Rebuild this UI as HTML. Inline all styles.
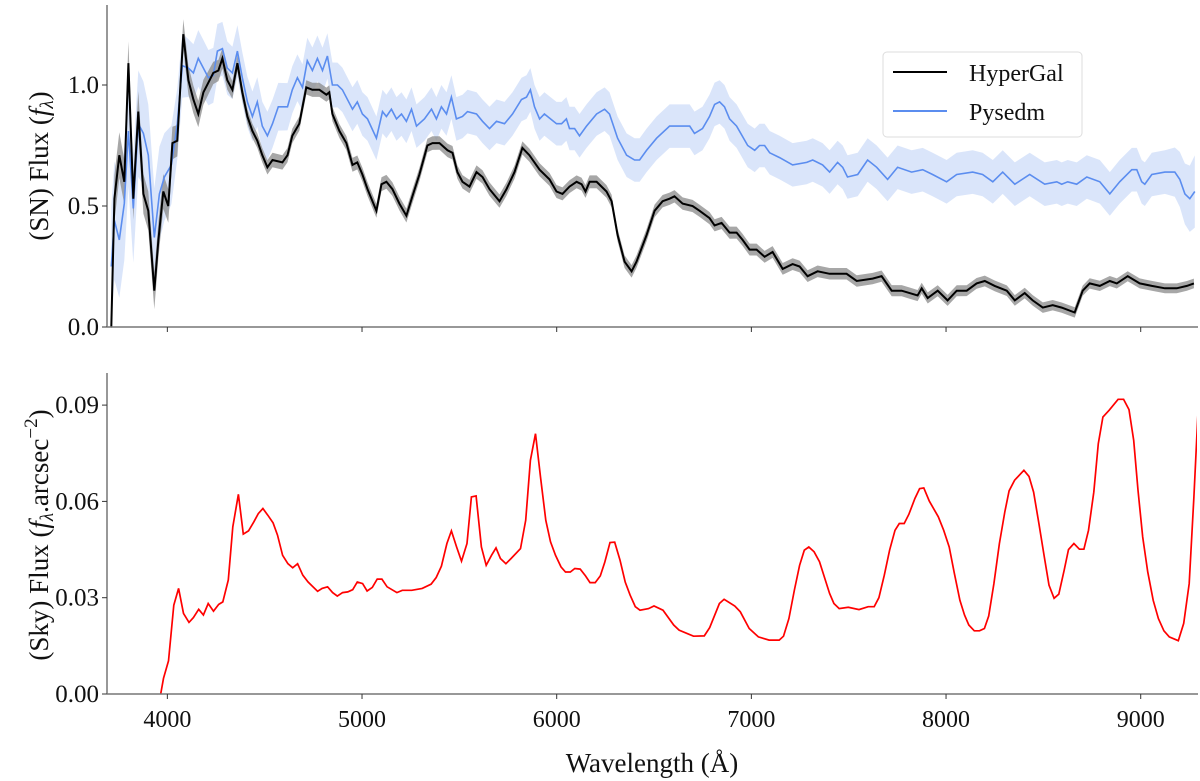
<!DOCTYPE html>
<html><head><meta charset="utf-8"><style>
html,body{margin:0;padding:0;background:#fff;}
svg{display:block;}
text{font-family:"Liberation Serif","DejaVu Serif",serif;fill:#111;}
</style></head><body>
<svg id="chart" width="1200" height="781" viewBox="0 0 1200 781" xmlns="http://www.w3.org/2000/svg">
<defs>
<clipPath id="clipTop"><rect x="107" y="0" width="1090" height="328"/></clipPath>
<clipPath id="clipBot"><rect x="107" y="370" width="1090" height="325"/></clipPath>
</defs>
<g id="topPanel"></g>
<g id="botPanel"></g>
<text transform="translate(48,166) rotate(-90)" text-anchor="middle" font-size="27">(SN) Flux (<tspan font-style="italic">f</tspan><tspan font-size="19" font-style="italic" dy="5">λ</tspan><tspan dy="-5">)</tspan></text>
<text transform="translate(48,535) rotate(-90)" text-anchor="middle" font-size="27">(Sky) Flux (<tspan font-style="italic">f</tspan><tspan font-size="19" font-style="italic" dy="5">λ</tspan><tspan dy="-5">.arcsec</tspan><tspan font-size="19" dy="-11">−2</tspan><tspan dy="11">)</tspan></text>
<text x="652" y="772" text-anchor="middle" font-size="27">Wavelength (Å)</text>
<g>
<rect x="883" y="52" width="199" height="85" rx="4" fill="#fff" stroke="#ddd" stroke-width="1"/>
<line x1="893" y1="72" x2="947" y2="72" stroke="#000" stroke-width="2"/>
<text x="969" y="81" font-size="24">HyperGal</text>
<line x1="893" y1="111" x2="947" y2="111" stroke="#5b8def" stroke-width="2"/>
<text x="969" y="120" font-size="24">Pysedm</text>
</g>
</svg>
<script>
const xTicks=[4000,5000,6000,7000,8000,9000];
const topYTicks=[0.0,0.5,1.0];
const topYLabels=["0.0","0.5","1.0"];
const botYTicks=[0.00,0.03,0.06,0.09];
const botYLabels=["0.00","0.03","0.06","0.09"];
const hyperGal=[[3712,0.0],[3728,0.53],[3753,0.71],[3779,0.60],[3800,1.09],[3825,0.53],[3851,0.89],[3877,0.55],[3902,0.48],[3933,0.15],[3954,0.36],[3979,0.56],[4005,0.50],[4026,0.76],[4051,0.77],[4082,1.21],[4108,1.02],[4134,0.94],[4159,0.88],[4185,0.97],[4211,1.01],[4236,1.05],[4262,1.06],[4283,1.11],[4308,1.02],[4334,0.98],[4360,1.09],[4385,0.97],[4411,0.87],[4437,0.81],[4462,0.77],[4488,0.71],[4514,0.66],[4540,0.69],[4591,0.68],[4617,0.71],[4642,0.79],[4678,0.84],[4714,0.99],[4745,0.98],[4781,0.98],[4817,0.96],[4832,0.97],[4848,0.88],[4884,0.81],[4920,0.76],[4951,0.67],[4976,0.68],[5002,0.63],[5028,0.57],[5074,0.48],[5100,0.59],[5125,0.60],[5156,0.57],[5192,0.51],[5228,0.46],[5259,0.54],[5295,0.63],[5336,0.75],[5362,0.76],[5398,0.76],[5439,0.73],[5465,0.72],[5490,0.64],[5516,0.60],[5552,0.58],[5588,0.64],[5619,0.62],[5655,0.57],[5706,0.52],[5742,0.57],[5783,0.64],[5824,0.74],[5860,0.71],[5912,0.65],[5963,0.61],[5999,0.56],[6030,0.55],[6066,0.58],[6102,0.60],[6128,0.59],[6148,0.56],[6169,0.60],[6205,0.60],[6256,0.56],[6282,0.52],[6313,0.38],[6349,0.27],[6385,0.23],[6410,0.27],[6462,0.38],[6503,0.48],[6544,0.52],[6580,0.53],[6605,0.54],[6647,0.51],[6698,0.50],[6734,0.48],[6785,0.45],[6811,0.42],[6847,0.43],[6888,0.39],[6924,0.39],[6955,0.36],[6991,0.32],[7027,0.32],[7068,0.29],[7109,0.31],[7161,0.24],[7212,0.26],[7248,0.25],[7289,0.21],[7340,0.23],[7402,0.22],[7453,0.22],[7489,0.22],[7541,0.19],[7623,0.20],[7669,0.21],[7721,0.15],[7772,0.15],[7813,0.14],[7854,0.13],[7875,0.16],[7906,0.12],[7957,0.15],[8008,0.11],[8055,0.15],[8106,0.15],[8157,0.18],[8199,0.19],[8250,0.17],[8312,0.15],[8353,0.11],[8404,0.14],[8445,0.11],[8497,0.08],[8548,0.09],[8594,0.08],[8661,0.06],[8702,0.15],[8738,0.18],[8790,0.17],[8841,0.19],[8877,0.18],[8933,0.21],[8995,0.18],[9057,0.17],[9124,0.16],[9185,0.16],[9237,0.17],[9273,0.18]];
const pysedm=[[3712,0.25],[3728,0.44],[3753,0.36],[3779,0.51],[3800,0.81],[3825,0.49],[3851,0.84],[3877,0.80],[3902,0.71],[3933,0.37],[3959,0.55],[3985,0.62],[4021,0.67],[4051,0.84],[4077,1.08],[4108,1.07],[4134,1.05],[4159,1.11],[4185,1.07],[4211,1.03],[4236,1.04],[4257,1.14],[4283,1.15],[4308,1.07],[4334,1.05],[4360,1.14],[4385,1.03],[4411,0.93],[4437,0.87],[4462,0.93],[4488,0.83],[4514,0.79],[4540,0.84],[4570,0.91],[4617,0.91],[4642,0.98],[4668,1.03],[4694,0.99],[4719,1.10],[4745,1.06],[4771,1.11],[4797,1.06],[4822,1.12],[4848,1.00],[4874,1.00],[4899,0.98],[4951,0.90],[4976,0.93],[5002,0.88],[5028,0.86],[5074,0.78],[5105,0.89],[5125,0.87],[5151,0.90],[5177,0.86],[5203,0.88],[5228,0.85],[5254,0.90],[5280,0.83],[5321,0.86],[5357,0.90],[5382,0.86],[5408,0.91],[5434,0.88],[5459,0.95],[5485,0.86],[5516,0.87],[5542,0.89],[5588,0.88],[5619,0.85],[5655,0.82],[5691,0.85],[5732,0.84],[5773,0.88],[5819,0.94],[5845,0.95],[5865,0.98],[5886,0.91],[5912,0.86],[5937,0.88],[5999,0.84],[6025,0.84],[6050,0.86],[6066,0.82],[6092,0.82],[6117,0.79],[6153,0.83],[6205,0.88],[6246,0.90],[6271,0.88],[6313,0.78],[6359,0.71],[6400,0.69],[6426,0.69],[6462,0.73],[6513,0.78],[6580,0.83],[6647,0.83],[6683,0.83],[6708,0.80],[6749,0.82],[6785,0.87],[6811,0.92],[6837,0.93],[6862,0.91],[6888,0.86],[6924,0.83],[6981,0.75],[7017,0.73],[7042,0.75],[7068,0.75],[7094,0.72],[7145,0.70],[7212,0.67],[7284,0.68],[7315,0.69],[7366,0.67],[7402,0.64],[7443,0.68],[7469,0.66],[7494,0.62],[7546,0.63],[7597,0.69],[7644,0.66],[7700,0.61],[7751,0.66],[7823,0.64],[7880,0.65],[7931,0.63],[8003,0.60],[8055,0.63],[8137,0.64],[8188,0.63],[8240,0.60],[8291,0.64],[8353,0.59],[8430,0.63],[8507,0.59],[8569,0.60],[8594,0.59],[8625,0.60],[8671,0.59],[8723,0.62],[8790,0.60],[8841,0.55],[8892,0.60],[8954,0.65],[8980,0.65],[9005,0.60],[9021,0.59],[9057,0.63],[9124,0.64],[9175,0.64],[9201,0.61],[9227,0.55],[9252,0.53],[9278,0.56]];
const hgErrWave=[3700,4100,4400,9300];
const hgErrVal=[0.10,0.06,0.03,0.02];
const pyErrWave=[3700,3950,4100,4500,5000,9150,9280];
const pyErrVal=[0.25,0.20,0.12,0.10,0.09,0.09,0.15];
const sky=[[3966,0.0],[3980,0.0049],[4006,0.0103],[4033,0.0277],[4058,0.0329],[4083,0.0251],[4111,0.0223],[4134,0.0238],[4161,0.0264],[4185,0.0246],[4210,0.0282],[4237,0.0258],[4264,0.0279],[4285,0.0287],[4313,0.0355],[4336,0.0521],[4365,0.0622],[4390,0.0498],[4417,0.0508],[4444,0.0536],[4467,0.0562],[4491,0.0578],[4516,0.0557],[4543,0.0533],[4566,0.0495],[4592,0.0432],[4619,0.0406],[4644,0.0393],[4669,0.0406],[4696,0.0370],[4723,0.0349],[4772,0.0320],[4795,0.0329],[4823,0.0334],[4849,0.0316],[4873,0.0305],[4900,0.0316],[4927,0.0318],[4952,0.0325],[4976,0.0349],[5003,0.0344],[5026,0.0321],[5053,0.0332],[5078,0.0358],[5102,0.0358],[5129,0.0334],[5179,0.0316],[5207,0.0323],[5255,0.0323],[5309,0.0329],[5355,0.0342],[5381,0.0363],[5408,0.0398],[5436,0.0469],[5459,0.0508],[5486,0.0458],[5511,0.0414],[5539,0.0469],[5562,0.0614],[5586,0.0617],[5613,0.0458],[5638,0.0401],[5665,0.0432],[5688,0.0455],[5711,0.0422],[5739,0.0406],[5766,0.0422],[5814,0.0453],[5841,0.0541],[5865,0.0728],[5891,0.0811],[5917,0.0676],[5944,0.0541],[5968,0.0474],[5994,0.0432],[6022,0.0396],[6045,0.0380],[6070,0.0380],[6093,0.0391],[6121,0.0389],[6148,0.0368],[6171,0.0347],[6198,0.0347],[6224,0.0368],[6247,0.0411],[6274,0.0472],[6298,0.0473],[6325,0.0417],[6352,0.0349],[6377,0.0308],[6404,0.0272],[6428,0.0261],[6472,0.0266],[6500,0.0274],[6546,0.0261],[6601,0.0215],[6629,0.0199],[6703,0.0180],[6758,0.0181],[6786,0.0207],[6836,0.0282],[6860,0.0295],[6915,0.0274],[6943,0.0256],[6989,0.0204],[7036,0.0178],[7091,0.0168],[7143,0.0168],[7165,0.0180],[7193,0.0235],[7221,0.0324],[7248,0.0401],[7272,0.0448],[7295,0.0458],[7322,0.0443],[7350,0.0412],[7402,0.0313],[7424,0.0282],[7451,0.0266],[7498,0.0270],[7553,0.0263],[7600,0.0272],[7631,0.0272],[7655,0.0300],[7683,0.0370],[7710,0.0448],[7738,0.0510],[7760,0.0531],[7785,0.0531],[7809,0.0560],[7840,0.0609],[7864,0.0640],[7886,0.0642],[7914,0.0601],[7960,0.0552],[7988,0.0510],[8016,0.0458],[8043,0.0375],[8071,0.0292],[8095,0.0246],[8117,0.0215],[8145,0.0197],[8172,0.0197],[8197,0.0204],[8219,0.0243],[8246,0.0344],[8274,0.0469],[8302,0.0567],[8324,0.0633],[8352,0.0666],[8400,0.0697],[8426,0.0678],[8450,0.0629],[8477,0.0531],[8505,0.0427],[8529,0.0339],[8555,0.0298],[8579,0.0311],[8607,0.0386],[8629,0.0450],[8657,0.0469],[8685,0.0451],[8708,0.0451],[8732,0.0510],[8759,0.0629],[8782,0.0780],[8806,0.0863],[8838,0.0884],[8884,0.0918],[8912,0.0918],[8940,0.0886],[8964,0.0790],[8986,0.0635],[9010,0.0489],[9036,0.0381],[9064,0.0292],[9091,0.0235],[9119,0.0197],[9147,0.0178],[9193,0.0166],[9221,0.0220],[9249,0.0344],[9273,0.0614],[9295,0.0884]];

const NS="http://www.w3.org/2000/svg";
const X0=107,X1=1196,WMIN=3690,WMAX=9284;
const BOT0=694,BOTTOP=373;
const xs=w=>X0+(w-WMIN)/(WMAX-WMIN)*(X1-X0);
const yTop=v=>327-v*242;
const yBot=v=>BOT0-v/0.03*96.3;
function interp(wa,va,w){if(w<=wa[0])return va[0];for(let i=1;i<wa.length;i++){if(w<=wa[i]){const t=(w-wa[i-1])/(wa[i]-wa[i-1]);return va[i-1]+t*(va[i]-va[i-1]);}}return va[va.length-1];}
function mk(tag,attrs,parent){const e=document.createElementNS(NS,tag);for(const k in attrs)e.setAttribute(k,attrs[k]);parent.appendChild(e);return e;}
function linePath(data,ys){return data.map((p,i)=>(i?'L':'M')+xs(p[0]).toFixed(1)+','+ys(p[1]).toFixed(1)).join('');}
function bandPath(data,ys,ew,ev){let up=data.map((p,i)=>(i?'L':'M')+xs(p[0]).toFixed(1)+','+ys(p[1]+interp(ew,ev,p[0])).toFixed(1)).join('');let lo=data.slice().reverse().map(p=>'L'+xs(p[0]).toFixed(1)+','+ys(p[1]-interp(ew,ev,p[0])).toFixed(1)).join('');return up+lo+'Z';}

function axes(g,y0,ytop,yticks,ylabels,ys,name){
  const ya=mk('line',{x1:X0,y1:y0,x2:X0,y2:ytop,stroke:'#777','stroke-width':1.5},g);
  
  
  const xa=mk('line',{x1:X0,y1:y0,x2:X1+2,y2:y0,stroke:'#777','stroke-width':1.5},g);
  
  
  xTicks.forEach(t=>{const tk=mk('line',{x1:xs(t),y1:y0,x2:xs(t),y2:y0+5,stroke:'#333','stroke-width':1},g);
    
    });
  yticks.forEach((t,i)=>{const tk=mk('line',{x1:X0-5,y1:ys(t),x2:X0,y2:ys(t),stroke:'#333','stroke-width':1},g);
    
    
    const tl=mk('text',{x:X0-8,y:ys(t)+8,'text-anchor':'end','font-size':25},g);
    
    
    tl.textContent=ylabels[i];});
}
const topG=document.getElementById('topPanel'),botG=document.getElementById('botPanel');
const ct=mk('g',{'clip-path':'url(#clipTop)'},topG);
const pb=mk('path',{d:bandPath(pysedm,yTop,pyErrWave,pyErrVal),fill:'#cddcf8','fill-opacity':0.75,stroke:'none'},ct);


const hb=mk('path',{d:bandPath(hyperGal,yTop,hgErrWave,hgErrVal),fill:'#8a8a8a','fill-opacity':0.75,stroke:'none'},ct);


const pl=mk('path',{d:linePath(pysedm,yTop),fill:'none',stroke:'#5b8def','stroke-width':1.6},ct);


const hl=mk('path',{d:linePath(hyperGal,yTop),fill:'none',stroke:'#000','stroke-width':2},ct);


axes(topG,327,5,topYTicks,topYLabels,yTop,'sn');
const cb=mk('g',{'clip-path':'url(#clipBot)'},botG);
const sl=mk('path',{d:linePath(sky,yBot),fill:'none',stroke:'#ff0000','stroke-width':1.7},cb);


axes(botG,BOT0,BOTTOP,botYTicks,botYLabels,yBot,'sky');
xTicks.forEach(t=>{const l=mk('text',{x:xs(t),y:727,'text-anchor':'middle','font-size':24},botG);
  
  
  l.textContent=String(t);});
</script>
</body></html>
